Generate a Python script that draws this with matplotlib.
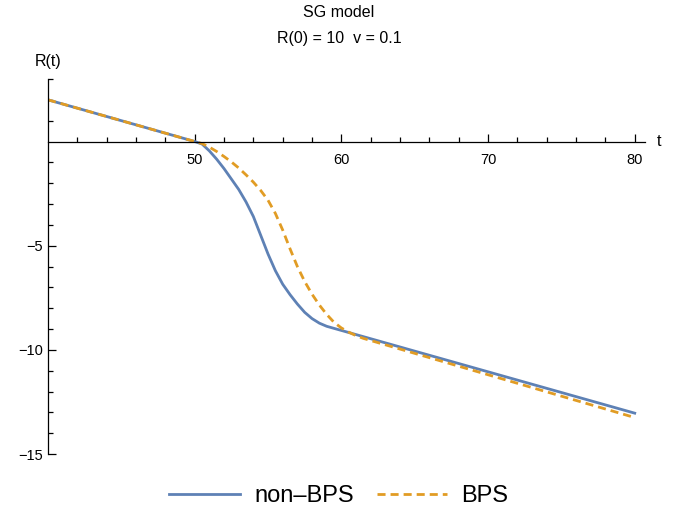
import matplotlib
matplotlib.use("Agg")
import matplotlib.pyplot as plt
from matplotlib.ticker import FixedLocator

plt.rcParams['font.family'] = ['Liberation Sans', 'DejaVu Sans']

# non-BPS curve
t_nonbps = [40, 49, 50.0, 50.5, 51.0, 51.5, 52.0, 52.5, 53.0, 53.5, 54.0, 54.5,
            55.0, 55.5, 56.0, 56.5, 57.0, 57.5, 58.0, 58.5, 59.0, 59.5, 80]
r_nonbps = [2.0, 0.2, 0.0, -0.12, -0.45, -0.85, -1.3, -1.8, -2.3, -2.9, -3.6, -4.5,
            -5.4, -6.2, -6.85, -7.35, -7.8, -8.2, -8.5, -8.72, -8.87, -8.97, -13.04]

# BPS curve
t_bps = [40, 49, 50.0, 50.5, 51.0, 51.5, 52.0, 52.5, 53.0, 53.5, 54.0, 54.5,
         55.0, 55.5, 56.0, 56.5, 57.0, 57.5, 58.0, 58.5, 59.0, 59.5, 60.0, 60.5,
         61.0, 61.5, 80]
r_bps = [2.0, 0.2, 0.0, -0.1, -0.27, -0.48, -0.72, -0.98, -1.27, -1.6, -1.95, -2.35,
         -2.82, -3.45, -4.25, -5.15, -6.0, -6.72, -7.33, -7.85, -8.3, -8.68, -8.95, -9.15,
         -9.32, -9.45, -13.25]

x_major = [50, 60, 70, 80]
x_minor = [42, 44, 46, 48, 52, 54, 56, 58, 62, 64, 66, 68, 72, 74, 76, 78]
y_major = [-15, -10, -5]
y_minor = [-14, -13, -12, -11, -9, -8, -7, -6, -4, -3, -2, -1, 1, 2, 3]

fig = plt.figure(figsize=(6.78, 5.13), dpi=100)
ax = fig.add_axes([48/678, 59/513, 597/678, 375/513])

blue = '#5E81B5'
orange = '#E19C24'
ax.plot(t_nonbps, r_nonbps, color=blue, lw=2.0, label='non\u2013BPS')
ax.plot(t_bps, r_bps, color=orange, lw=2.0, dashes=(2.9, 1.8), label='BPS')

ax.set_xlim(40, 80.7)
ax.set_ylim(-15, 3)

ax.spines['top'].set_visible(False)
ax.spines['right'].set_visible(False)
ax.spines['bottom'].set_position(('data', 0))
ax.spines['left'].set_position(('data', 40))
for s in ['bottom', 'left']:
    ax.spines[s].set_linewidth(0.9)

ax.xaxis.set_major_locator(FixedLocator(x_major))
ax.xaxis.set_minor_locator(FixedLocator(x_minor))
ax.yaxis.set_major_locator(FixedLocator(y_major))
ax.yaxis.set_minor_locator(FixedLocator(y_minor))
ax.tick_params(which='both', direction='in', width=0.9, labelsize=10.5, colors='black')
ax.tick_params(which='major', length=6)
ax.tick_params(which='minor', length=3.5)
ax.tick_params(axis='x', which='both', direction='in', pad=8)
ax.set_xticklabels([str(v) for v in x_major])
ax.set_yticklabels(['\u221215', '\u221210', '\u22125'])

ax.text(81.5, 0, 't', fontsize=11.5, ha='left', va='center')
ax.text(40, 3.85, 'R(t)', fontsize=11.5, ha='center', va='center')

fig.text(0.5, 0.99, 'SG model', ha='center', va='top', fontsize=11.5)
fig.text(0.5, 0.94, 'R(0) = 10  v = 0.1', ha='center', va='top', fontsize=11.5)

fig.legend(loc='lower center', bbox_to_anchor=(0.5, -0.03), ncol=2, frameon=False,
           fontsize=17, handlelength=3.0, columnspacing=0.95, handletextpad=0.6)

fig.savefig('out.png', dpi=100)
